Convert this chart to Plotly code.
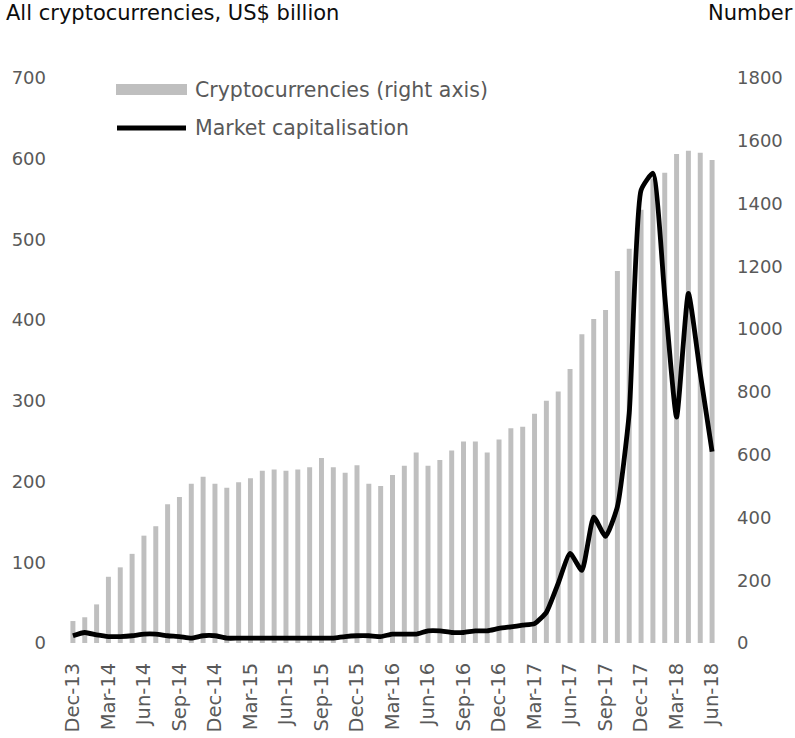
import plotly.graph_objects as go
import pandas as pd

# Monthly categories, Dec-13 .. Jun-18
months = list(pd.date_range("2013-12-01", "2018-06-01", freq="MS").strftime("%b-%y"))
tick_labels = months[::3]

# Number of cryptocurrencies (right axis)
num_crypto = [70, 82, 123, 211, 241, 284, 342, 372, 442, 465, 507, 530,
              507, 495, 512, 525, 549, 553, 549, 553, 560, 589, 560, 542,
              566, 507, 500, 535, 565, 607, 565, 583, 613, 642, 642, 607,
              648, 684, 689, 730, 772, 801, 873, 984, 1032, 1061, 1185, 1256,
              1380, 1480, 1498, 1558, 1568, 1562, 1539]

# Market capitalisation, US$ billion (left axis)
market_cap = [9, 13, 10, 8, 8, 9, 11, 11, 9, 8, 6, 9,
              9, 6, 6, 6, 6, 6, 6, 6, 6, 6, 6, 8,
              9, 9, 8, 11, 11, 11, 15, 15, 13, 13, 15, 15,
              18, 20, 22, 24, 38, 74, 111, 90, 156, 132, 169, 285,
              561, 582, 430, 280, 433, 334, 237]

FONT = "DejaVu Sans"
GREY = "#595959"

fig = go.Figure()
fig.add_trace(go.Bar(x=months, y=num_crypto, name="Cryptocurrencies (right axis)",
                     marker=dict(color="#BFBFBF", line=dict(width=0)),
                     yaxis="y", showlegend=False))
fig.add_trace(go.Scatter(x=months, y=market_cap, name="Market capitalisation",
                         mode="lines",
                         line=dict(color="#000000", width=4.8, shape="spline", smoothing=0.5),
                         yaxis="y2", showlegend=False))

L, R, T, B = 67, 77, 78, 95
W, H = 795, 738
pw, ph = W - L - R, H - T - B

def px(x):
    return (x - L) / pw

def py(y):
    return (H - B - y) / ph

fig.update_layout(
    width=W, height=H,
    margin=dict(l=L, r=R, t=T, b=B, pad=0, autoexpand=False),
    paper_bgcolor="white", plot_bgcolor="white",
    bargap=0.58,
    font=dict(family=FONT, color=GREY),
    xaxis=dict(type="category", tickmode="array", tickvals=tick_labels, ticktext=tick_labels,
               tickangle=-90, tickfont=dict(size=19.5, color=GREY, family=FONT),
               showgrid=False, zeroline=False, showline=False, ticks="", automargin=False,
               ticklabelstandoff=15, range=[-0.5, len(months) - 0.5]),
    yaxis=dict(side="right", range=[0, 1800], dtick=200, tick0=0, automargin=False,
               showgrid=False, zeroline=False, showline=False, ticks="",
               tickfont=dict(size=18, color=GREY, family=FONT), ticklabelstandoff=18),
    yaxis2=dict(side="left", overlaying="y", range=[0, 700], dtick=100, tick0=0, automargin=False,
                showgrid=False, zeroline=False, showline=False, ticks="",
                tickfont=dict(size=18, color=GREY, family=FONT), ticklabelstandoff=20),
    shapes=[
        dict(type="rect", xref="paper", yref="paper", x0=px(116), x1=px(187),
             y0=py(95), y1=py(84), fillcolor="#BFBFBF", line=dict(width=0)),
        dict(type="line", xref="paper", yref="paper", x0=px(117), x1=px(186),
             y0=py(128), y1=py(128), line=dict(color="#000000", width=5)),
    ],
    annotations=[
        dict(text="All cryptocurrencies, US$ billion", xref="paper", yref="paper",
             x=px(4), y=py(13), xanchor="left", yanchor="middle", showarrow=False,
             font=dict(size=21, color="#0d0d0d", family=FONT)),
        dict(text="Number", xref="paper", yref="paper",
             x=px(795), y=py(13), xanchor="right", yanchor="middle", showarrow=False,
             font=dict(size=21, color="#0d0d0d", family=FONT)),
        dict(text="Cryptocurrencies (right axis)", xref="paper", yref="paper",
             x=px(193), y=py(90), xanchor="left", yanchor="middle", showarrow=False,
             font=dict(size=20.5, color=GREY, family=FONT)),
        dict(text="Market capitalisation", xref="paper", yref="paper",
             x=px(193), y=py(128), xanchor="left", yanchor="middle", showarrow=False,
             font=dict(size=20.5, color=GREY, family=FONT)),
    ],
)

fig.write_html("out.html")
